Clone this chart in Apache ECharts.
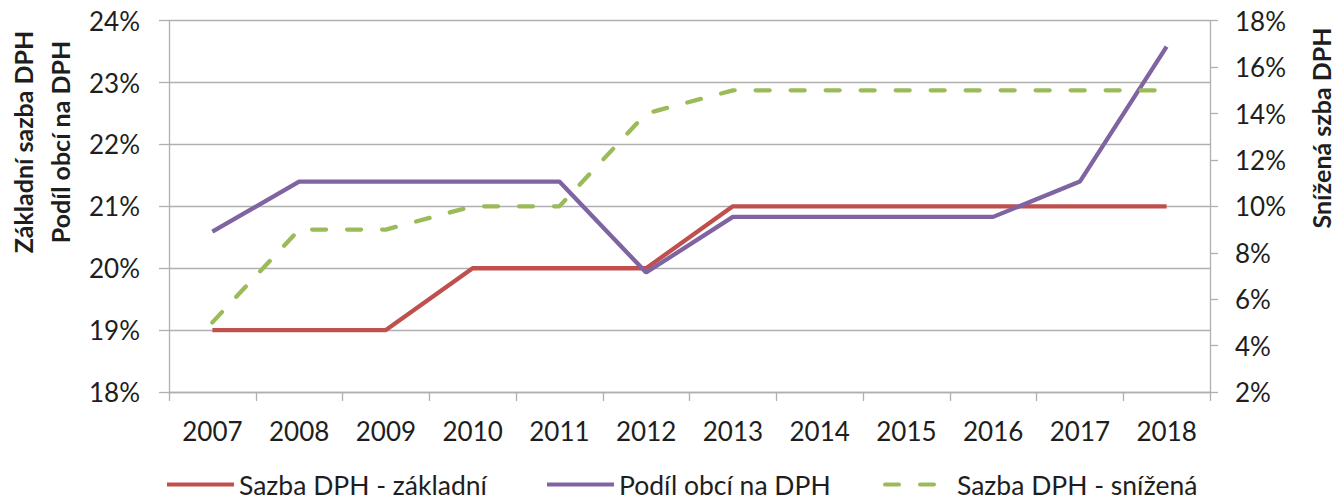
<!DOCTYPE html>
<html>
<head>
<meta charset="utf-8">
<script src="https://cdn.jsdelivr.net/npm/echarts@6/dist/echarts.min.js"></script>
<style>
html,body{margin:0;padding:0;background:#fff;}
#chart{width:1336px;height:502px;}
</style>
</head>
<body>
<div id="chart"></div>
<script>
const years = ['2007','2008','2009','2010','2011','2012','2013','2014','2015','2016','2017','2018'];
const sazbaZakladni = [19, 19, 19, 20, 20, 20, 21, 21, 21, 21, 21, 21];
const podilObci = [20.59, 21.4, 21.4, 21.4, 21.4, 19.93, 20.83, 20.83, 20.83, 20.83, 21.4, 23.58];
const sazbaSnizena = [5, 9, 9, 10, 10, 14, 15, 15, 15, 15, 15, 15];
const seriesNames = ['Sazba DPH - základní', 'Podíl obcí na DPH', 'Sazba DPH - snížená'];
const leftAxisName = ['Základní sazba DPH', 'Podíl obcí na DPH'];
const rightAxisName = 'Snížená szba DPH';

const FONT = 'Lato, "Open Sans", sans-serif';
const TXT = '#1e1e1e';
const GRID = '#b0b0b0';
const COLORS = ['#c0504d', '#8064a2', '#9bbb59'];
const DASH = [14, 21];

const chart = echarts.init(document.getElementById('chart'), null, {renderer: 'svg'});

function legendFor(i, left) {
  return {
    data: [seriesNames[i]],
    left: left,
    top: 471,
    itemWidth: 67,
    itemHeight: 14,
    itemGap: 0,
    padding: 0,
    itemStyle: {color: 'transparent', borderWidth: 0, opacity: 0},
    lineStyle: {width: 4, color: COLORS[i], type: i === 2 ? DASH : 'solid', cap: i === 2 ? 'round' : 'butt'},
    textStyle: {fontFamily: FONT, fontSize: 26.5, color: TXT, lineHeight: 26, padding: [0,0,0,0]},
    selectedMode: false
  };
}

chart.setOption({
  animation: false,
  backgroundColor: '#fff',
  grid: {left: 169, right: 126, top: 20.7, bottom: 110, containLabel: false},
  legend: [
    legendFor(0, 165),
    legendFor(1, 545),
    legendFor(2, 883)
  ],
  xAxis: {
    type: 'category',
    data: years,
    boundaryGap: true,
    axisLine: {show: true, lineStyle: {color: GRID, width: 1.3}},
    axisTick: {show: true, length: 9, inside: false, lineStyle: {color: GRID, width: 1.3}},
    axisLabel: {fontFamily: FONT, fontSize: 26, color: TXT, margin: 26, lineHeight: 26, interval: 0},
    splitLine: {show: false}
  },
  yAxis: [
    {
      type: 'value', min: 18, max: 24, interval: 1, position: 'left',
      axisLine: {show: true, lineStyle: {color: GRID, width: 1.3}},
      axisTick: {show: true, length: 10, lineStyle: {color: GRID, width: 1.3}},
      axisLabel: {fontFamily: FONT, fontSize: 26, color: TXT, margin: 29, formatter: '{value}%'},
      splitLine: {show: true, lineStyle: {color: GRID, width: 1.3}}
    },
    {
      type: 'value', min: 2, max: 18, interval: 2, position: 'right',
      axisLine: {show: true, lineStyle: {color: GRID, width: 1.3}},
      axisTick: {show: true, length: 8, lineStyle: {color: GRID, width: 1.3}},
      axisLabel: {fontFamily: FONT, fontSize: 26, color: TXT, margin: 25, formatter: '{value}%'},
      splitLine: {show: false}
    }
  ],
  graphic: [
    {type: 'text', x: 23, y: 142, rotation: Math.PI/2,
     style: {text: leftAxisName[0], font: 'bold 25px ' + FONT, fill: TXT, align: 'center', verticalAlign: 'middle'}},
    {type: 'text', x: 60, y: 142, rotation: Math.PI/2,
     style: {text: leftAxisName[1], font: 'bold 25px ' + FONT, fill: TXT, align: 'center', verticalAlign: 'middle'}},
    {type: 'text', x: 1321, y: 128, rotation: Math.PI/2,
     style: {text: rightAxisName, font: 'bold 25px ' + FONT, fill: TXT, align: 'center', verticalAlign: 'middle'}}
  ],
  series: [
    {
      name: seriesNames[0], type: 'line', yAxisIndex: 0, data: sazbaZakladni,
      symbol: 'none', showSymbol: false, color: COLORS[0],
      lineStyle: {width: 4.3, color: COLORS[0]}
    },
    {
      name: seriesNames[1], type: 'line', yAxisIndex: 0, data: podilObci,
      symbol: 'none', showSymbol: false, color: COLORS[1],
      lineStyle: {width: 4.3, color: COLORS[1]}
    },
    {
      name: seriesNames[2], type: 'line', yAxisIndex: 1, data: sazbaSnizena,
      symbol: 'none', showSymbol: false, color: COLORS[2],
      lineStyle: {width: 4.3, color: COLORS[2], type: DASH, cap: 'round'}
    }
  ]
});
</script>
</body>
</html>
